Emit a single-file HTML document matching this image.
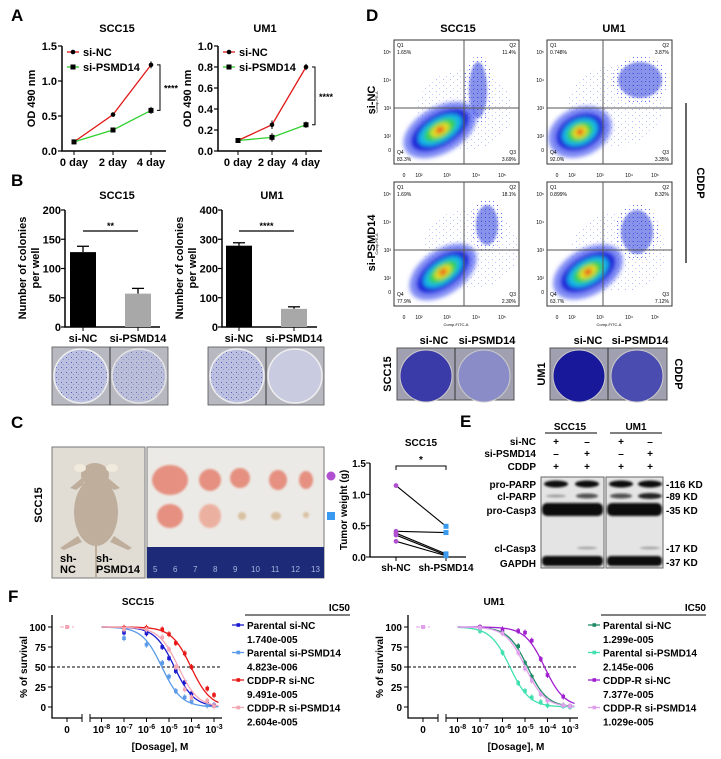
<!DOCTYPE html>
<html><head><meta charset="utf-8"><title>PSMD14 figure</title>
<style>
html,body{margin:0;padding:0;background:#fff;}
svg{display:block;font-family:"Liberation Sans",Arial,sans-serif;font-weight:bold;}
</style></head>
<body>
<svg id="fig" width="721" height="759" viewBox="0 0 721 759" xmlns="http://www.w3.org/2000/svg">
<defs>
  <filter id="blur2"><feGaussianBlur stdDeviation="2"/></filter>
  <filter id="blur1"><feGaussianBlur stdDeviation="1"/></filter>
  <pattern id="dots" width="4" height="4" patternUnits="userSpaceOnUse"><rect x="1" y="1" width="1" height="1" fill="#3a4cf0"/></pattern>
  <pattern id="dots2" width="7" height="6" patternUnits="userSpaceOnUse"><rect x="2" y="1" width="1" height="1" fill="#7a8af8"/><rect x="5" y="4" width="1" height="1" fill="#9aa6fa"/></pattern>
  <pattern id="col" width="5" height="5" patternUnits="userSpaceOnUse"><rect width="5" height="5" fill="#bcc0e0"/><rect x="1" y="2" width="1" height="1" fill="#5a62b0"/><rect x="3" y="4" width="1" height="1" fill="#8c92cc"/></pattern>
  <pattern id="ruler" width="4.5" height="30" patternUnits="userSpaceOnUse"><rect x="0" y="0" width="0.7" height="6" fill="#c8d0f0"/></pattern>
</defs>

<g font-size="17" fill="#000">
  <text x="11" y="21">A</text>
  <text x="11" y="186">B</text>
  <text x="11" y="428">C</text>
  <text x="366" y="21">D</text>
  <text x="460" y="427">E</text>
  <text x="8" y="602">F</text>
</g>

<g id="panelA"></g>
<g id="panelB"></g>

<g>
  <rect x="52" y="347" width="116" height="58" fill="#b8b8c0" stroke="#555" stroke-width="0.8"/>
  <line x1="110" y1="347" x2="110" y2="405" stroke="#333"/>
  <circle cx="81" cy="376" r="27" fill="url(#col)" stroke="#eee" stroke-width="1.5"/>
  <circle cx="139" cy="376" r="27" fill="url(#col)" stroke="#eee" stroke-width="1.5" opacity="0.8"/>
  <rect x="208" y="347" width="116" height="58" fill="#b8b8c0" stroke="#555" stroke-width="0.8"/>
  <line x1="266" y1="347" x2="266" y2="405" stroke="#333"/>
  <circle cx="237" cy="376" r="27" fill="url(#col)" stroke="#eee" stroke-width="1.5"/>
  <circle cx="295" cy="376" r="27" fill="#c9cbe0" stroke="#eee" stroke-width="1.5"/>
</g>

<g>
  <text transform="translate(42,505) rotate(-90)" font-size="11" text-anchor="middle">SCC15</text>
  <rect x="52" y="447" width="93" height="131" fill="#e2ddd4" stroke="#777"/>
  <g fill="#bfae9c">
    <ellipse cx="95" cy="475" rx="14" ry="12"/>
    <ellipse cx="80" cy="468" rx="6" ry="4" fill="#efeadc"/>
    <ellipse cx="112" cy="468" rx="6" ry="4" fill="#efeadc"/>
    <path d="M 82 478 L 70 488 L 76 490 L 84 484 Z"/>
    <path d="M 108 478 L 120 488 L 114 490 L 106 484 Z"/>
    <ellipse cx="96" cy="512" rx="22" ry="34"/>
    <path d="M 78 536 L 60 548 L 64 550 L 82 542 Z"/>
    <path d="M 114 536 L 132 548 L 128 550 L 110 542 Z"/>
    <rect x="95" y="540" width="2" height="38"/>
  </g>
  <text x="60" y="562" font-size="11"><tspan x="60">sh-</tspan><tspan x="60" dy="11">NC</tspan></text>
  <text x="96" y="562" font-size="11"><tspan x="96">sh-</tspan><tspan x="96" dy="11">PSMD14</tspan></text>
  <rect x="147" y="447" width="177" height="131" fill="#eceae6" stroke="#777"/>
  <g fill="#e59080" filter="url(#blur1)">
    <ellipse cx="170" cy="480" rx="18" ry="15"/><ellipse cx="210" cy="480" rx="11" ry="11"/>
    <ellipse cx="240" cy="478" rx="10" ry="10"/><ellipse cx="278" cy="480" rx="9" ry="10"/><ellipse cx="306" cy="480" rx="7" ry="9"/>
    <ellipse cx="170" cy="516" rx="13" ry="12"/><ellipse cx="210" cy="516" rx="11" ry="12" fill="#ecb0a0"/>
    <ellipse cx="242" cy="516" rx="4" ry="4" fill="#d8c0a0"/><ellipse cx="276" cy="516" rx="5" ry="4" fill="#d8c0a0"/><ellipse cx="306" cy="515" rx="3" ry="3" fill="#d8c0a0"/>
  </g>
  <rect x="147" y="547" width="177" height="31" fill="#1c2a78"/>
  <rect x="147" y="547" width="177" height="8" fill="url(#ruler)"/>
  <g font-size="8" fill="#aab4e0" font-weight="normal">
    <text x="153" y="572">5</text><text x="173" y="572">6</text><text x="193" y="572">7</text><text x="213" y="572">8</text><text x="233" y="572">9</text><text x="251" y="572">10</text><text x="271" y="572">11</text><text x="291" y="572">12</text><text x="311" y="572">13</text>
  </g>
  <circle cx="331" cy="476" r="4.5" fill="#b050d0"/>
  <rect x="327" y="512" width="8" height="8" fill="#3a9af0"/>
</g>
<g id="panelC"></g>

<g>
  <text x="458" y="32" font-size="11" text-anchor="middle">SCC15</text>
  <text x="614" y="32" font-size="11" text-anchor="middle">UM1</text>
  <text transform="translate(375,100) rotate(-90)" font-size="11" text-anchor="middle">si-NC</text>
  <text transform="translate(375,243) rotate(-90)" font-size="11" text-anchor="middle">si-PSMD14</text>
  <line x1="686" y1="103" x2="686" y2="263" stroke="#000" stroke-width="1.2"/>
  <text transform="translate(697,183) rotate(90)" font-size="11" text-anchor="middle">CDDP</text>
  <g id="flows"></g>
</g>

<g font-size="11">
  <text x="434" y="344" text-anchor="middle">si-NC</text><text x="487" y="344" text-anchor="middle">si-PSMD14</text>
  <text x="588" y="344" text-anchor="middle">si-NC</text><text x="640" y="344" text-anchor="middle">si-PSMD14</text>
  <text transform="translate(391,374) rotate(-90)" text-anchor="middle">SCC15</text>
  <text transform="translate(545,374) rotate(-90)" text-anchor="middle">UM1</text>
  <text transform="translate(675,374) rotate(90)" text-anchor="middle">CDDP</text>
  <rect x="397" y="348" width="117" height="52" fill="#a0a0b0" stroke="#555"/>
  <line x1="455" y1="348" x2="455" y2="400" stroke="#333"/>
  <circle cx="426" cy="376" r="26" fill="#3a3aa8" stroke="#ccc"/>
  <circle cx="484" cy="376" r="26" fill="#8a8cc8" stroke="#ccc"/>
  <rect x="550" y="348" width="117" height="52" fill="#a0a0b0" stroke="#555"/>
  <line x1="608" y1="348" x2="608" y2="400" stroke="#333"/>
  <circle cx="579" cy="376" r="26" fill="#18189a" stroke="#ccc"/>
  <circle cx="637" cy="376" r="26" fill="#4a4cb0" stroke="#ccc"/>
</g>

<g font-size="10">
  <text x="570" y="430" text-anchor="middle">SCC15</text><line x1="545" y1="433" x2="597" y2="433" stroke="#000"/>
  <text x="636" y="430" text-anchor="middle">UM1</text><line x1="610" y1="433" x2="662" y2="433" stroke="#000"/>
  <g text-anchor="end"><text x="536" y="445">si-NC</text><text x="536" y="457">si-PSMD14</text><text x="536" y="470">CDDP</text>
  <text x="536" y="488">pro-PARP</text><text x="536" y="500">cl-PARP</text><text x="536" y="514">pro-Casp3</text><text x="536" y="552">cl-Casp3</text><text x="536" y="567">GAPDH</text></g>
  <g text-anchor="middle"><text x="556" y="445">+</text><text x="587" y="445">–</text><text x="621" y="445">+</text><text x="650" y="445">–</text>
  <text x="556" y="457">–</text><text x="587" y="457">+</text><text x="621" y="457">–</text><text x="650" y="457">+</text>
  <text x="556" y="470">+</text><text x="587" y="470">+</text><text x="621" y="470">+</text><text x="650" y="470">+</text></g>
  <rect x="541" y="477" width="63" height="91" fill="#e4e4e4" stroke="#666"/>
  <rect x="606" y="477" width="57" height="91" fill="#e4e4e4" stroke="#666"/>
  <g fill="#111" filter="url(#blur1)">
    <ellipse cx="556" cy="484" rx="12" ry="3.5"/><ellipse cx="587" cy="484" rx="12" ry="3.5"/><ellipse cx="621" cy="484" rx="12" ry="3.5"/><ellipse cx="650" cy="484" rx="12" ry="3.5"/>
    <ellipse cx="556" cy="496" rx="10" ry="1.5" opacity="0.3"/><ellipse cx="587" cy="496" rx="11" ry="2.5" opacity="0.7"/><ellipse cx="621" cy="496" rx="11" ry="2.5" opacity="0.7"/><ellipse cx="650" cy="496" rx="12" ry="3" opacity="0.9"/>
    <rect x="542" y="503" width="61" height="13" rx="5"/><rect x="607" y="503" width="55" height="13" rx="5"/>
    <ellipse cx="587" cy="548" rx="10" ry="1.2" opacity="0.3"/><ellipse cx="650" cy="548" rx="10" ry="1.2" opacity="0.3"/>
    <rect x="542" y="556" width="61" height="10" rx="4"/><rect x="607" y="556" width="55" height="10" rx="4"/>
  </g>
  <g><text x="666" y="488">-116 KD</text><text x="666" y="500">-89 KD</text><text x="666" y="514">-35 KD</text><text x="666" y="552">-17 KD</text><text x="666" y="566">-37 KD</text></g>
</g>

<g id="panelF"></g>

<script>
// ---------- Panel A data ----------
var aDays = ["0 day","2 day","4 day"];
var aScc15NC = [0.13, 0.52, 1.23];
var aScc15PS = [0.13, 0.30, 0.58];
var aScc15Err = [0.02, 0.02, 0.05];
var aUm1NC = [0.10, 0.25, 0.80];
var aUm1PS = [0.10, 0.13, 0.25];
var aUm1Err = [0.02, 0.04, 0.03];
var aScc15Ticks = [0, 0.5, 1.0, 1.5];
var aUm1Ticks = [0, 0.2, 0.4, 0.6, 0.8, 1.0];
// ---------- Panel B data ----------
var bGroups = ["si-NC","si-PSMD14"];
var bScc15 = [128, 57];
var bScc15Err = [10, 9];
var bUm1 = [278, 62];
var bUm1Err = [10, 7];
var bScc15Ticks = [0,50,100,150,200];
var bUm1Ticks = [0,100,200,300,400];
// ---------- Panel C data ----------
var cGroups = ["sh-NC","sh-PSMD14"];
var cShNC = [1.14, 0.41, 0.38, 0.35, 0.25];
var cShPS = [0.49, 0.39, 0.05, 0.03, 0.02];
var cTicks = [0, 0.5, 1.0, 1.5];
// ---------- Panel F data ----------
var fDoses = [1e-7, 1e-6, 5e-6, 1e-5, 2e-5, 5e-5, 1e-4, 5e-4, 1e-3];
var fScc15Names = ["Parental si-NC","Parental si-PSMD14","CDDP-R si-NC","CDDP-R si-PSMD14"];
var fScc15IC50 = [1.740e-5, 4.823e-6, 9.491e-5, 2.604e-5];
var fScc15Labels = ["1.740e-005","4.823e-006","9.491e-005","2.604e-005"];
var fScc15PNC = [93, 92, 75, 61, 45, 31, 17, 6, 2];
var fScc15PPS = [86, 78, 55, 38, 20, 12, 7, 2, 1];
var fScc15RNC = [99, 99, 97, 91, 80, 67, 50, 23, 15];
var fScc15RPS = [97, 97, 87, 72, 50, 22, 12, 8, 1];
var fUm1Names = ["Parental si-NC","Parental si-PSMD14","CDDP-R si-NC","CDDP-R si-PSMD14"];
var fUm1IC50 = [1.299e-5, 2.145e-6, 7.377e-5, 1.029e-5];
var fUm1Labels = ["1.299e-005","2.145e-006","7.377e-005","1.029e-005"];
var fUm1PNC = [100, 93, 76, 55, 38, 17, 9, 2, 1];
var fUm1PPS = [95, 68, 30, 20, 12, 6, 2, 1, 0];
var fUm1RNC = [100, 97, 95, 93, 83, 60, 40, 13, 1];
var fUm1RPS = [99, 92, 68, 48, 33, 16, 8, 2, 1];
var fYTicks = [0, 25, 50, 75, 100];
var fXExp = [-8, -7, -6, -5, -4, -3];

var NS = "http://www.w3.org/2000/svg";
function mk(tag, attrs, parent){ var e=document.createElementNS(NS,tag); for(var k in attrs) e.setAttribute(k, attrs[k]); parent.appendChild(e); return e; }
function txt(parent, x, y, s, size, anchor){ var t=mk("text",{x:x,y:y,"font-size":size,"text-anchor":anchor||"start"},parent); t.textContent=s; return t; }

function lineChart(g, cfg){
  var ys = function(v){ return cfg.y0 - v/cfg.ymax*(cfg.y0-cfg.y1); };
  var xs = function(i){ return cfg.xs[i]; };
  var t = txt(g, cfg.tx, 32, cfg.title, 11, "middle");
  
  
  var ax = mk("path",{d:"M"+cfg.ax+","+cfg.y1+"V"+cfg.y0+"H"+(cfg.ax+104),stroke:"#000","stroke-width":1.5,fill:"none"},g);
  
  
  cfg.ticks.forEach(function(v){
    var y=ys(v);
    mk("line",{x1:cfg.ax-4,y1:y,x2:cfg.ax,y2:y,stroke:"#000","stroke-width":1.2},g);
    var tl = txt(g, cfg.ax-5, y+4, v.toFixed(1), 11, "end");
    
    
  });
  aDays.forEach(function(d,i){
    mk("line",{x1:xs(i),y1:cfg.y0,x2:xs(i),y2:cfg.y0+4,stroke:"#000"},g);
    var xl = txt(g, xs(i), cfg.y0+15, d, 11, "middle");
    
    
  });
  var yt = txt(g, 0, 0, "OD 490 nm", 11, "middle");
  yt.setAttribute("transform","translate("+(cfg.ax-27)+","+((cfg.y0+cfg.y1)/2)+") rotate(-90)");
  
  
  [[cfg.nc,"#e01818","circle"],[cfg.ps,"#30d030","square"]].forEach(function(s){
    var p = mk("polyline",{points:s[0].map(function(v,i){return xs(i)+","+ys(v);}).join(" "),stroke:s[1],"stroke-width":1.3,fill:"none"},g);
    
    
    s[0].forEach(function(v,i){
      mk("line",{x1:xs(i),y1:ys(v+cfg.err[i]),x2:xs(i),y2:ys(v-cfg.err[i]),stroke:"#000"},g);
      var m = s[2]=="circle" ? mk("circle",{cx:xs(i),cy:ys(v),r:2.3,fill:"#000"},g) : mk("rect",{x:xs(i)-2.5,y:ys(v)-2.5,width:5,height:5,fill:"#000"},g);
      
      
    });
  });
  var lx=cfg.ax+5;
  mk("line",{x1:lx,y1:52,x2:lx+12,y2:52,stroke:"#e01818","stroke-width":1.3},g); mk("circle",{cx:lx+6,cy:52,r:2.3,fill:"#000"},g);
  var l1 = txt(g, lx+16, 56, "si-NC", 11);
  
  
  mk("line",{x1:lx,y1:67,x2:lx+12,y2:67,stroke:"#30d030","stroke-width":1.3},g); mk("rect",{x:lx+3.5,y:64.5,width:5,height:5,fill:"#000"},g);
  var l2 = txt(g, lx+16, 71, "si-PSMD14", 11);
  
  
  var bx=cfg.xs[2]+9, ya=ys(cfg.nc[2]), yb=ys(cfg.ps[2]);
  var br = mk("path",{d:"M"+(bx-3)+","+ya+"H"+bx+"V"+yb+"H"+(bx-3),stroke:"#000",fill:"none"},g);
  
  
  txt(g, bx+4, (ya+yb)/2+4, "****", 9);
}
var gA=document.getElementById("panelA");
lineChart(gA,{title:"SCC15",tx:117,ax:62,y0:151,y1:46,ymax:1.5,xs:[74,113,151],nc:aScc15NC,ps:aScc15PS,err:aScc15Err,ticks:aScc15Ticks});
lineChart(gA,{title:"UM1",tx:265,ax:218,y0:151,y1:46,ymax:1.0,xs:[238,272,306],nc:aUm1NC,ps:aUm1PS,err:aUm1Err,ticks:aUm1Ticks});

function barChart(g, cfg){
  var y0=327, y1=210;
  var ys=function(v){return y0 - v/cfg.ymax*(y0-y1);};
  var t = txt(g, cfg.tx, 199, cfg.title, 11, "middle");
  
  
  var ax = mk("path",{d:"M"+cfg.ax+","+y1+"V"+y0+"H"+(cfg.ax+95),stroke:"#000","stroke-width":1.5,fill:"none"},g);
  
  
  cfg.ticks.forEach(function(v){
    mk("line",{x1:cfg.ax-4,y1:ys(v),x2:cfg.ax,y2:ys(v),stroke:"#000","stroke-width":1.2},g);
    var tl = txt(g, cfg.ax-4, ys(v)+4, String(v), 11, "end");
    
    
  });
  var fills=["#000","#a8a8a8"];
  cfg.vals.forEach(function(v,i){
    var cx=cfg.xs[i];
    mk("line",{x1:cx,y1:ys(v+cfg.err[i]),x2:cx,y2:ys(v),stroke:"#000","stroke-width":1.3},g);
    mk("line",{x1:cx-6,y1:ys(v+cfg.err[i]),x2:cx+6,y2:ys(v+cfg.err[i]),stroke:"#000","stroke-width":1.3},g);
    var b = mk("rect",{x:cx-13,y:ys(v),width:26,height:y0-ys(v),fill:fills[i]},g);
    
    
    mk("line",{x1:cx,y1:y0,x2:cx,y2:y0+4,stroke:"#000"},g);
    var xl = txt(g, cx, 342, bGroups[i], 11, "middle");
    
    
  });
  var yt = mk("text",{transform:"translate("+(cfg.ax-33)+",268) rotate(-90)","font-size":11,"text-anchor":"middle"},g);
  
  
  var s1=mk("tspan",{x:0,y:-6},yt); s1.textContent="Number of colonies";
  var s2=mk("tspan",{x:0,y:7},yt); s2.textContent="per well";
  var sl = mk("line",{x1:cfg.xs[0],y1:231,x2:cfg.xs[1],y2:231,stroke:"#000","stroke-width":1.2},g);
  
  
  txt(g,(cfg.xs[0]+cfg.xs[1])/2,229,cfg.sig,9,"middle");
}
var gB=document.getElementById("panelB");
barChart(gB,{title:"SCC15",tx:117,ax:65,ymax:200,xs:[83,138],vals:bScc15,err:bScc15Err,ticks:bScc15Ticks,sig:"**"});
barChart(gB,{title:"UM1",tx:272,ax:222,ymax:400,xs:[239,294],vals:bUm1,err:bUm1Err,ticks:bUm1Ticks,sig:"****"});

(function(){
  var g=document.getElementById("panelC");
  var y0=557, y1=463, ax=370, xs=[396,446];
  var ys=function(v){return y0 - v/1.5*(y0-y1);};
  var t=txt(g,421,446,"SCC15",10,"middle");
  
  
  var a=mk("path",{d:"M"+ax+","+y1+"V"+y0+"H"+(ax+96),stroke:"#000","stroke-width":1.3,fill:"none"},g);
  
  
  cTicks.forEach(function(v){
    mk("line",{x1:ax-4,y1:ys(v),x2:ax,y2:ys(v),stroke:"#000"},g);
    var tl=txt(g,ax-4,ys(v)+4,v.toFixed(1),10,"end");
    
    
  });
  cGroups.forEach(function(c,i){
    mk("line",{x1:xs[i],y1:y0,x2:xs[i],y2:y0+4,stroke:"#000"},g);
    var xl=txt(g,xs[i],571,c,10,"middle");
    
    
  });
  var yt=txt(g,0,0,"Tumor weight (g)",10,"middle");
  yt.setAttribute("transform","translate(347,510) rotate(-90)");
  
  
  cShNC.forEach(function(v,i){
    var l=mk("line",{x1:xs[0],y1:ys(v),x2:xs[1],y2:ys(cShPS[i]),stroke:"#000","stroke-width":1.1},g);
    
    
    var p=mk("circle",{cx:xs[0],cy:ys(v),r:2.4,fill:"#b050d0"},g);
    
    
    var q=mk("rect",{x:xs[1]-2.5,y:ys(cShPS[i])-2.5,width:5,height:5,fill:"#3a9af0"},g);
    
    
  });
  var br=mk("path",{d:"M"+xs[0]+",470V466H"+xs[1]+"V470",stroke:"#000",fill:"none"},g);
  
  
  txt(g,421,463,"*",10,"middle");
})();

(function(){
  var g=document.getElementById("flows");
  var plots=[
    {x:394,y:40,vx:464,hy:108,cx:440,cy:130,rot:-30,rx:32,ry:16,q2x:478,q2y:90,q2rx:9,q2ry:28,q:["Q1","1.65%","Q2","11.4%","Q4","83.3%","Q3","3.69%"],n:"scc15-si-nc"},
    {x:547,y:40,vx:603,hy:108,cx:580,cy:132,rot:-25,rx:25,ry:17,q2x:640,q2y:80,q2rx:22,q2ry:18,q:["Q1","0.748%","Q2","3.87%","Q4","92.0%","Q3","3.35%"],n:"um1-si-nc"},
    {x:394,y:182,vx:464,hy:250,cx:443,cy:272,rot:-35,rx:30,ry:15,q2x:487,q2y:225,q2rx:11,q2ry:20,q:["Q1","1.69%","Q2","18.1%","Q4","77.9%","Q3","2.30%"],n:"scc15-si-psmd14"},
    {x:547,y:182,vx:603,hy:250,cx:588,cy:272,rot:-30,rx:30,ry:16,q2x:637,q2y:232,q2rx:16,q2ry:22,q:["Q1","0.899%","Q2","8.32%","Q4","63.7%","Q3","7.12%"],n:"um1-si-psmd14"}
  ];
  plots.forEach(function(p){
    var gg=mk("g",{},g);
    
    
    mk("rect",{x:p.x,y:p.y,width:125,height:124,fill:"#fff",stroke:"#333"},gg);
    var cl=mk("g",{},gg);
    mk("ellipse",{cx:(p.cx+p.q2x)/2+6,cy:(p.cy+p.q2y)/2,rx:48,ry:40,fill:"url(#dots2)",opacity:0.6},cl);
    mk("ellipse",{cx:p.q2x,cy:p.q2y,rx:p.q2rx+6,ry:p.q2ry+6,fill:"url(#dots)",opacity:0.8},cl);
    mk("ellipse",{cx:p.q2x,cy:p.q2y,rx:p.q2rx,ry:p.q2ry,fill:"#2a3ad8",opacity:0.55,filter:"url(#blur1)"},cl);
    var b=mk("g",{transform:"rotate("+p.rot+" "+p.cx+" "+p.cy+")",filter:"url(#blur2)"},cl);
    mk("ellipse",{cx:p.cx,cy:p.cy,rx:p.rx+8,ry:p.ry+7,fill:"#4a5af0",opacity:0.7},b);
    mk("ellipse",{cx:p.cx,cy:p.cy,rx:p.rx,ry:p.ry,fill:"#1a28d8"},b);
    mk("ellipse",{cx:p.cx,cy:p.cy,rx:p.rx*0.75,ry:p.ry*0.75,fill:"#18b8e8"},b);
    mk("ellipse",{cx:p.cx,cy:p.cy,rx:p.rx*0.55,ry:p.ry*0.55,fill:"#30d050"},b);
    mk("ellipse",{cx:p.cx,cy:p.cy,rx:p.rx*0.32,ry:p.ry*0.35,fill:"#e8e020"},b);
    mk("ellipse",{cx:p.cx,cy:p.cy,rx:p.rx*0.15,ry:p.ry*0.18,fill:"#e83020"},b);
    mk("line",{x1:p.vx,y1:p.y,x2:p.vx,y2:p.y+124,stroke:"#555"},gg);
    mk("line",{x1:p.x,y1:p.hy,x2:p.x+125,y2:p.hy,stroke:"#555"},gg);
    var f=5, q=p.q;
    txt(gg,p.x+3,p.y+7,q[0],f).setAttribute("font-weight","normal");
    txt(gg,p.x+3,p.y+14,q[1],f).setAttribute("font-weight","normal");
    txt(gg,p.x+122,p.y+7,q[2],f,"end").setAttribute("font-weight","normal");
    txt(gg,p.x+122,p.y+14,q[3],f,"end").setAttribute("font-weight","normal");
    txt(gg,p.x+3,p.y+114,q[4],f).setAttribute("font-weight","normal");
    txt(gg,p.x+3,p.y+121,q[5],f).setAttribute("font-weight","normal");
    txt(gg,p.x+122,p.y+114,q[6],f,"end").setAttribute("font-weight","normal");
    txt(gg,p.x+122,p.y+121,q[7],f,"end").setAttribute("font-weight","normal");
    var xl=["0","10²","10³","10⁴","10⁵"], xp=[10,25,53,82,108];
    xl.forEach(function(s,i){ txt(gg,p.x+xp[i],p.y+137,s,5,"middle").setAttribute("font-weight","normal"); });
    var yl=["10⁵","10⁴","10³","10²","0"], yp=[12,40,68,96,110];
    yl.forEach(function(s,i){ txt(gg,p.x-3,p.y+yp[i]+2,s,5,"end").setAttribute("font-weight","normal"); });
    if(p.x<500){ var yt=txt(gg,0,0,"Comp-PE-A",4,"middle"); yt.setAttribute("transform","translate("+(p.x-16)+","+(p.y+62)+") rotate(-90)"); yt.setAttribute("font-weight","normal"); }
    if(p.y>100){ txt(gg,p.x+62,p.y+144,"Comp-FITC-A",4,"middle").setAttribute("font-weight","normal"); }
  });
})();

function doseChart(g, cfg){
  var y0=707, y100=627, ax=cfg.ox+52;
  var ys=function(v){return y0-(v/100)*(y0-y100);};
  var xs=function(d){return cfg.ox+169+(Math.log10(d)+5)*22.5;};
  var t=txt(g,cfg.ox+138,605,cfg.title,10,"middle");
  
  
  var a=mk("path",{d:"M"+ax+",615V718H"+(ax+30)+"M"+(ax+38)+",718H"+(cfg.ox+222),stroke:"#000","stroke-width":1.3,fill:"none"},g);
  
  
  mk("line",{x1:ax+30,y1:714,x2:ax+30,y2:722,stroke:"#000"},g);
  mk("line",{x1:ax+38,y1:714,x2:ax+38,y2:722,stroke:"#000"},g);
  fYTicks.forEach(function(v){
    mk("line",{x1:ax-4,y1:ys(v),x2:ax,y2:ys(v),stroke:"#000"},g);
    var tl=txt(g,ax-6,ys(v)+4,String(v),10,"end");
    
    
  });
  mk("line",{x1:cfg.ox+67,y1:718,x2:cfg.ox+67,y2:722,stroke:"#000"},g);
  txt(g,cfg.ox+67,733,"0",10,"middle");
  fXExp.forEach(function(e){
    var x=xs(Math.pow(10,e));
    mk("line",{x1:x,y1:718,x2:x,y2:722,stroke:"#000"},g);
    var tl=mk("text",{x:x,y:733,"font-size":10,"text-anchor":"middle"},g);
    
    
    tl.textContent="10"; var sp=mk("tspan",{dy:-4,"font-size":7},tl); sp.textContent=String(e);
  });
  var xt=txt(g,cfg.ox+160,750,"[Dosage], M",10,"middle");
  
  
  var yt=txt(g,0,0,"% of survival",10,"middle");
  yt.setAttribute("transform","translate("+(cfg.ox+27)+",667) rotate(-90)");
  
  
  var dl=mk("line",{x1:ax,y1:ys(50),x2:cfg.ox+222,y2:ys(50),stroke:"#000","stroke-dasharray":"3,2"},g);
  
  
  cfg.series.forEach(function(s,k){
    var ic=cfg.ic50[k], pts=[];
    for(var e=-8;e<=-2.8;e+=0.05){ var d=Math.pow(10,e); pts.push(xs(d)+","+ys(100/(1+d/ic))); }
    var c=mk("polyline",{points:pts.join(" "),stroke:cfg.colors[k],"stroke-width":1.3,fill:"none"},g);
    
    
    mk("line",{x1:cfg.ox+60,y1:ys(100),x2:cfg.ox+74,y2:ys(100),stroke:cfg.colors[k],"stroke-dasharray":"4,2"},g);
    var z=mk("rect",{x:cfg.ox+65,y:ys(100)-2,width:4,height:4,fill:cfg.colors[k]},g);
    
    
    s.forEach(function(v,i){
      var x=xs(fDoses[i]), y=ys(v);
      mk("line",{x1:x,y1:y-3,x2:x,y2:y+3,stroke:cfg.colors[k]},g);
      var m=mk("rect",{x:x-1.8,y:y-1.8,width:3.6,height:3.6,fill:cfg.colors[k]},g);
      
      
    });
  });
  var lx=cfg.ox+232;
  txt(g,cfg.ox+350,611,"IC50",10,"end");
  mk("line",{x1:cfg.ox+245,y1:615,x2:cfg.ox+350,y2:615,stroke:"#000"},g);
  cfg.names.forEach(function(n,k){
    var y=625+k*27.5;
    mk("line",{x1:lx,y1:y,x2:lx+12,y2:y,stroke:cfg.colors[k],"stroke-width":1.3},g);
    mk("rect",{x:lx+4.5,y:y-1.8,width:3.6,height:3.6,fill:cfg.colors[k]},g);
    var t1=txt(g,lx+15,y+4,n,10);
    
    
    var t2=txt(g,lx+15,y+18,cfg.labels[k],10);
    
    
  });
}
var gF=document.getElementById("panelF");
doseChart(gF,{ox:0,title:"SCC15",series:[fScc15PNC,fScc15PPS,fScc15RNC,fScc15RPS],ic50:fScc15IC50,names:fScc15Names,labels:fScc15Labels,colors:["#1a1ad0","#5a9ae8","#e81818","#f4a8b4"]});
doseChart(gF,{ox:356,title:"UM1",series:[fUm1PNC,fUm1PPS,fUm1RNC,fUm1RPS],ic50:fUm1IC50,names:fUm1Names,labels:fUm1Labels,colors:["#1e8a68","#40e0b0","#a020d0","#e0a0ec"]});
</script>
</svg>
</body></html>
